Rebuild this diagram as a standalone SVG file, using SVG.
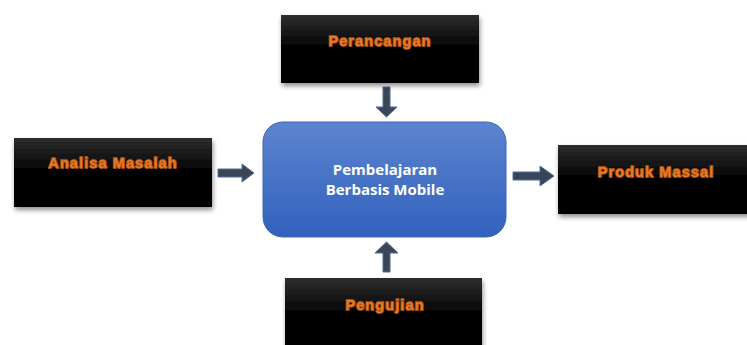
<svg xmlns="http://www.w3.org/2000/svg" width="747" height="345" viewBox="0 0 747 345">
  <defs>
    <linearGradient id="darkBox" x1="0" y1="0" x2="0" y2="1">
      <stop offset="0" stop-color="#2e2e2e"/>
      <stop offset="0.45" stop-color="#050505"/>
      <stop offset="1" stop-color="#000000"/>
    </linearGradient>
    <linearGradient id="blueBox" x1="0" y1="0" x2="0" y2="1">
      <stop offset="0" stop-color="#5c84cf"/>
      <stop offset="1" stop-color="#3261bd"/>
    </linearGradient>
    <filter id="shadow" x="-10%" y="-15%" width="125%" height="140%">
      <feGaussianBlur in="SourceAlpha" stdDeviation="2.5"/>
      <feOffset dx="1" dy="3" result="b"/>
      <feComponentTransfer><feFuncA type="linear" slope="0.45"/></feComponentTransfer>
      <feMerge><feMergeNode/><feMergeNode in="SourceGraphic"/></feMerge>
    </filter>
  </defs>
  <style>
    .box { fill: url(#darkBox); filter: url(#shadow); }
    .lbl { font-family: "Liberation Sans", Arial, sans-serif; font-weight: bold; font-size: 14.5px; letter-spacing: 1.1px;
           fill: #e97a26; stroke: #a24c10; stroke-width: 1.8px; stroke-linejoin: round; paint-order: stroke; text-anchor: middle; }
    .center { font-family: "Open Sans", "Liberation Sans", sans-serif; font-weight: bold; font-size: 15px;
              fill: #ffffff; text-anchor: middle; }
    .arrow { fill: #3a4658; stroke: #4f6f9c; stroke-width: 1; }
  </style>

  <!-- connectors: block arrows into and out of the central process -->
  <g id="connectors">
    <polygon class="arrow" points="383,87 390,87 390,107 397,107 386.5,117 376,107 383,107"/>
    <polygon class="arrow" points="218,169 242,169 242,164 254,173 242,182 242,177 218,177"/>
    <polygon class="arrow" points="513,172 540,172 540,166 554,176 540,186 540,180 513,180"/>
    <polygon class="arrow" points="383,272 390,272 390,253 398,253 386.5,242 375,253 383,253"/>
  </g>

  <g id="perancangan">
    <rect class="box" x="281" y="15" width="198" height="68"/>
    <text class="lbl" x="380" y="46">Perancangan</text>
  </g>

  <g id="analisa-masalah">
    <rect class="box" x="14" y="138" width="198" height="69"/>
    <text class="lbl" x="113" y="168">Analisa Masalah</text>
  </g>

  <g id="produk-massal">
    <rect class="box" x="558" y="145" width="198" height="69"/>
    <text class="lbl" x="656" y="177">Produk Massal</text>
  </g>

  <g id="pengujian">
    <rect class="box" x="285" y="278" width="197" height="75"/>
    <text class="lbl" x="385" y="310">Pengujian</text>
  </g>

  <g id="pembelajaran">
    <rect x="263" y="122" width="243" height="115" rx="20" ry="20" fill="url(#blueBox)" stroke="#3b66b8" stroke-width="1"/>
    <text class="center" x="385" y="175">Pembelajaran</text>
    <text class="center" x="385" y="195">Berbasis Mobile</text>
  </g>
</svg>
